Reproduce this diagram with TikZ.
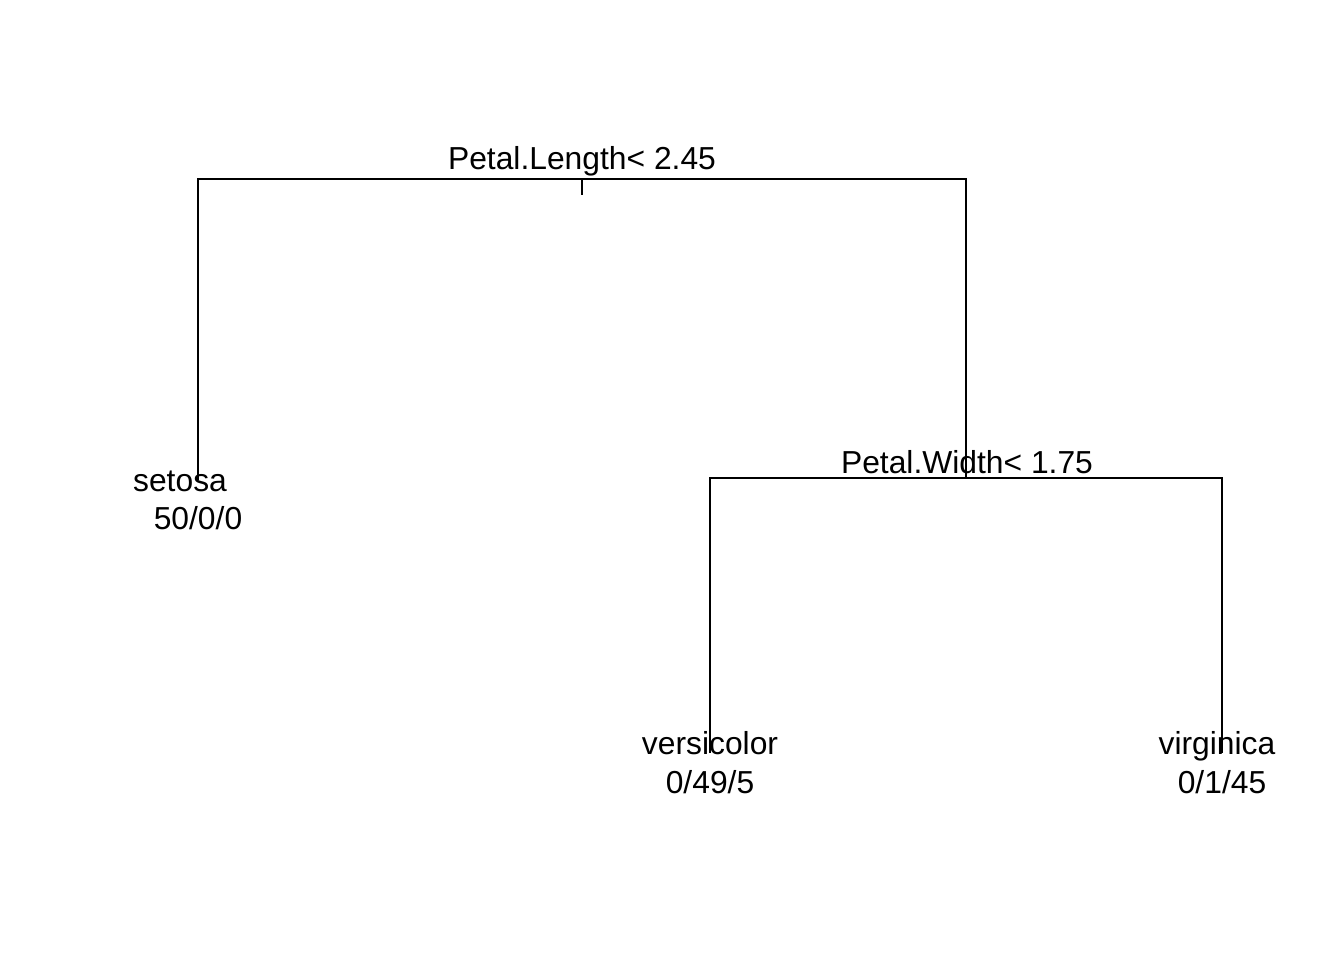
\documentclass[tikz,border=0pt]{standalone}
\usepackage{fontspec}
\setmainfont{Liberation Sans}
\usetikzlibrary{positioning}
\tikzset{
  branch/.style={line width=1.1pt,black},
  splitlab/.style={anchor=base,inner sep=0pt,font=\fontsize{18.1}{21}\selectfont},
  leaflab/.style={anchor=base,inner sep=0pt,font=\fontsize{18.1}{21}\selectfont}
}

\begin{document}
\begin{tikzpicture}[x=0.02cm,y=-0.02cm]
  \useasboundingbox (0,0) rectangle (1344,960);
  % tree nodes
  \coordinate (root) at (582,179);
  \coordinate (rootTick) at (582,195);
  \coordinate (setosa) at (198,480);
  \coordinate (inner) at (966,478);
  \coordinate (versi) at (710,753);
  \coordinate (virgi) at (1222,753);
  % branches
  \draw[branch] (setosa) |- (root) -| (inner);
  \draw[branch] (root) -- (rootTick);
  \draw[branch] (versi) |- (inner) -| (virgi);
  % split labels
  \node[splitlab] (rootLab) at (582,169.5) {Petal.Length< 2.45};
  \node[splitlab] (innerLab) at (967,473.5) {Petal.Width< 1.75};
  % leaf labels
  \node[leaflab] (setosaLab) at (180,491) {setosa};
  \node[leaflab] (setosaCnt) at (198,529) {50/0/0};
  \node[leaflab] (versiLab) at (710,754) {versicolor};
  \node[leaflab] (versiCnt) at (710,793.5) {0/49/5};
  \node[leaflab] (virgiLab) at (1217,754.5) {virginica};
  \node[leaflab] (virgiCnt) at (1222,793.5) {0/1/45};
\end{tikzpicture}
\end{document}
